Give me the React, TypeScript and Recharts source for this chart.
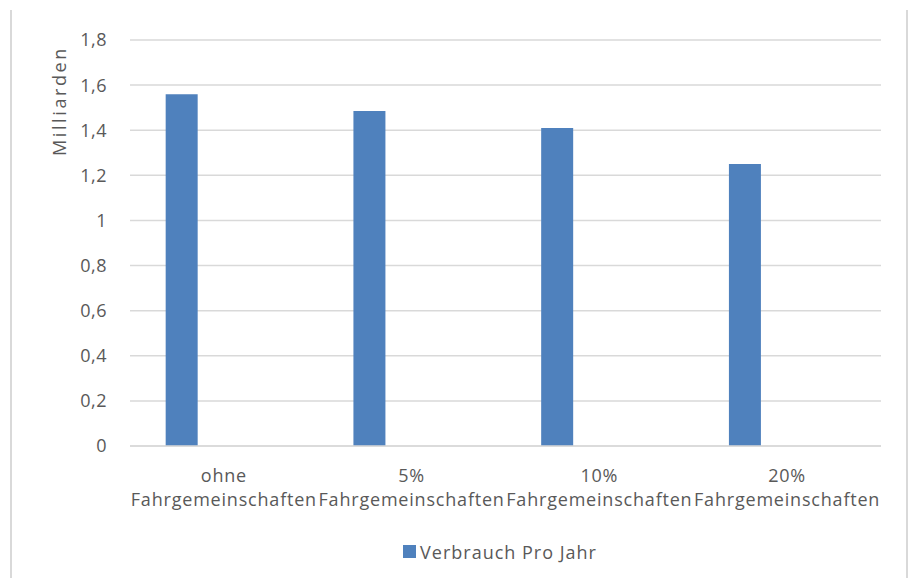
import React from "react";
import { BarChart, Bar, XAxis, YAxis, CartesianGrid, Legend } from "recharts";

const categories = [
  "ohne\nFahrgemeinschaften",
  "5%\nFahrgemeinschaften",
  "10%\nFahrgemeinschaften",
  "20%\nFahrgemeinschaften",
];
const verbrauch = [1.56, 1.485, 1.41, 1.25];
const yTicks = [0, 0.2, 0.4, 0.6, 0.8, 1, 1.2, 1.4, 1.6, 1.8];
const seriesName = "Verbrauch Pro Jahr";
const axisTitle = "Milliarden";

const data = categories.map((c, i) => ({ name: c, v: verbrauch[i], empty: null }));

const FONT = "'Open Sans', 'Liberation Sans', sans-serif";
const TXT = "#595959";
const BAR = "#4f81bd";
const GRID = "#d9d9d9";
const FS = 18;

const XTick = (props: any) => {
  const { x, y, payload } = props;
  const lines = String(payload.value).split("\n");
  return (
    <text x={x} y={y} textAnchor="middle" fill={TXT} fontSize={FS} fontFamily={FONT} letterSpacing={0.8}>
      {lines.map((l, i) => (
        <tspan key={i} x={x} dy={i === 0 ? 0 : 24}>
          {l}
        </tspan>
      ))}
    </text>
  );
};

const LegendContent = () => (
  <div style={{ display: "flex", justifyContent: "center", alignItems: "center", fontFamily: FONT, fontSize: FS, color: TXT, letterSpacing: 1, height: 23 }}>
    <span style={{ display: "inline-block", width: 13, height: 13, background: BAR, marginRight: 4 }} />
    <span>{seriesName}</span>
  </div>
);

export default function App() {
  return (
    <div style={{ position: "absolute", left: 0, top: 0, width: 912, height: 578, background: "#fff" }}>
      <div style={{ position: "absolute", left: 10, top: 10, width: 898, height: 568, borderLeft: `2px solid ${GRID}`, borderRight: `2px solid ${GRID}`, boxSizing: "border-box" }} />
      <div style={{ position: "absolute", left: 0, top: 0 }}>
        <BarChart
          width={912}
          height={578}
          data={data}
          margin={{ top: 40, right: 31, bottom: 39, left: 0 }}
          barCategoryGap="19%"
          barGap={53}
        >
          <CartesianGrid vertical={false} stroke={GRID} strokeWidth={1.5} />
          <XAxis
            dataKey="name"
            interval={0}
            height={70}
            axisLine={{ stroke: GRID, strokeWidth: 1.5 }}
            tickLine={false}
            tickSize={0}
            tickMargin={36}
            tick={<XTick />}
          />
          <YAxis
            width={130}
            domain={[0, 1.8]}
            ticks={yTicks}
            axisLine={false}
            tickLine={false}
            tickSize={0}
            tickMargin={23}
            tickFormatter={(v: number) => String(v).replace(".", ",")}
            tick={{ fill: TXT, fontSize: FS, fontFamily: FONT, letterSpacing: 0.5 }}
            label={{
              content: () => (
                <text
                  x={59}
                  y={101}
                  transform="rotate(-90, 59, 101)"
                  textAnchor="middle"
                  dominantBaseline="central"
                  fill={TXT}
                  fontSize={FS}
                  fontFamily={FONT}
                  letterSpacing={2.6}
                >
                  {axisTitle}
                </text>
              ),
            }}
          />
          <Legend content={<LegendContent />} wrapperStyle={{ top: 540, left: 0, width: 1000, height: 23 }} />
          <Bar dataKey="v" name={seriesName} fill={BAR} isAnimationActive={false} />
          <Bar dataKey="empty" legendType="none" fill="transparent" isAnimationActive={false} />
        </BarChart>
      </div>
    </div>
  );
}
